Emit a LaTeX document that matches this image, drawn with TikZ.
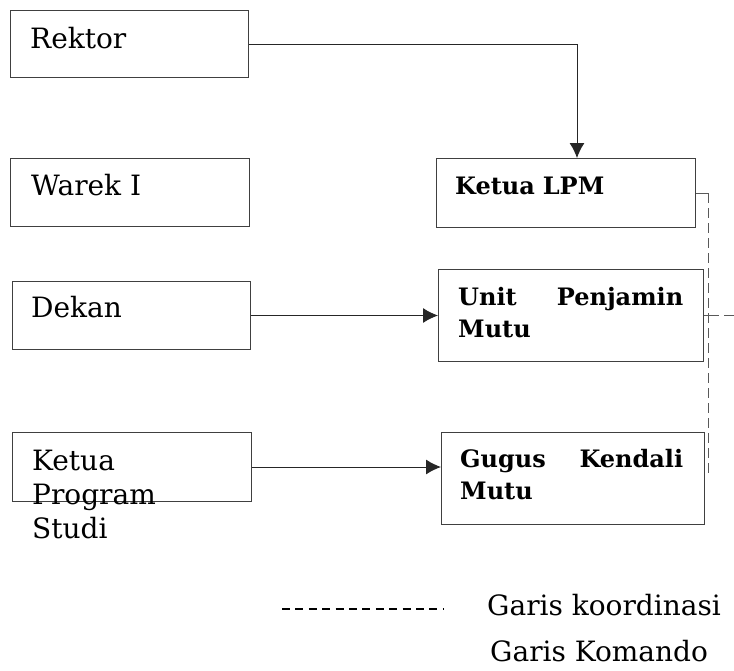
\documentclass[tikz,border=0pt]{standalone}
\usepackage{fontspec}
\setmainfont{DejaVu Serif}
\usetikzlibrary{arrows.meta, calc}

\begin{document}
\begin{tikzpicture}[x=1pt, y=-1pt, font=\fontsize{28}{34}\selectfont,
  kotak/.style={draw=black!75, line width=1pt, anchor=north west, inner sep=0pt},
  teks/.style={anchor=base west, inner sep=0pt, align=left},
  tebal/.style={teks, font=\fontsize{24}{32}\selectfont\bfseries, text width=225pt},
  komando/.style={-{Latex[length=15pt, width=15pt]}, line width=1pt, black!85},
  garis/.style={line width=1pt, black!65},
  koord/.style={garis, dash pattern=on 10pt off 5pt}]
  \useasboundingbox (0,0) rectangle (734,670);
  % kotak kiri
  \node[kotak, minimum width=238pt, minimum height=67pt] (rektor) at (10,10) {};
  \node[kotak, minimum width=239pt, minimum height=68pt] (warek) at (10,158) {};
  \node[kotak, minimum width=238pt, minimum height=68pt] (dekan) at (12,281) {};
  \node[kotak, minimum width=239pt, minimum height=69pt] (kps) at (12,432) {};
  \node[teks] (tRektor) at (30,48) {Rektor};
  \node[teks] (tWarek) at (31,195) {Warek I};
  \node[teks] (tDekan) at (31,317) {Dekan};
  \node[teks] (tKps) at (32,538) {Ketua\\Program\\Studi};
  % kotak kanan
  \node[kotak, minimum width=259pt, minimum height=69pt] (lpm) at (436,158) {};
  \node[kotak, minimum width=265pt, minimum height=92pt] (upm) at (438,269) {};
  \node[kotak, minimum width=263pt, minimum height=92pt] (gkm) at (441,432) {};
  \node[tebal] (tLpm) at (455,194) {Ketua LPM};
  \node[tebal] (tUpm) at (458,305) {Unit\hfill Penjamin\\Mutu};
  \node[tebal, text width=223pt] (tGkm) at (460,467) {Gugus\hfill Kendali\\Mutu};
  % garis komando
  \draw[komando] (rektor.east) -| ([xshift=11pt]lpm.north);
  \draw[komando] (dekan.east) -- (upm.west);
  \draw[komando] (kps.east) -- (kps.east -| gkm.west);
  % garis koordinasi
  \draw[garis] (lpm.east) -- ++(12,0) coordinate (k1);
  \draw[koord] (k1) -- ++(0,280);
  \draw[garis] (upm.east) -- ++(15,0) coordinate (k2);
  \draw[koord, dash phase=10pt] (k2) -- ++(16,0);
  % keterangan
  \coordinate (l1) at (282,609);
  \coordinate (l2) at (443,609);
  \draw[line width=1.2pt, dash pattern=on 8pt off 5.4pt] (l1) -- (l2);
  \node[teks] (tKoord) at (487,615) {Garis koordinasi};
  \node[teks] (tKomando) at (490,661) {Garis Komando};
\end{tikzpicture}
\end{document}
